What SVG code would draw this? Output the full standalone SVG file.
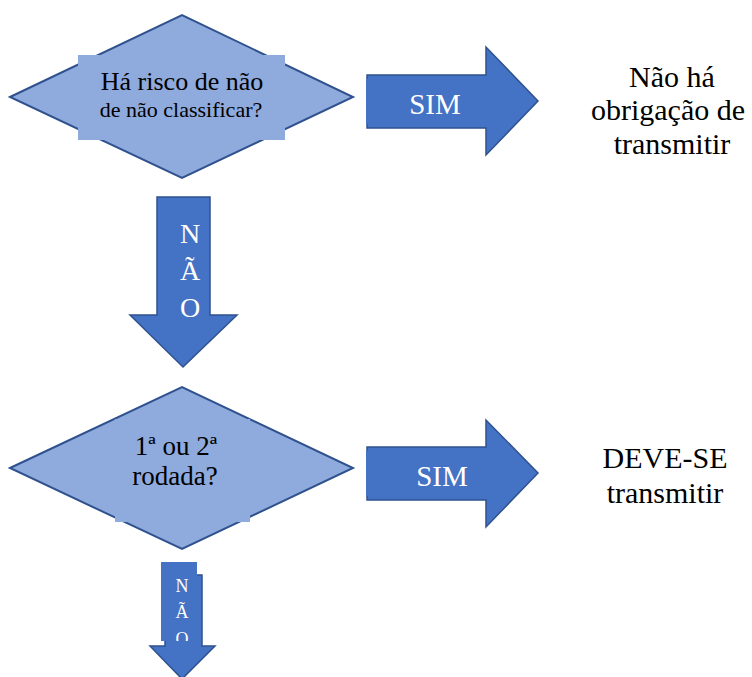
<svg xmlns="http://www.w3.org/2000/svg" width="752" height="677" viewBox="0 0 752 677">
<style>
.dia{fill:#8FAADC;stroke:#2F528F;stroke-width:2}
.box{fill:#8FAADC}
.arr{fill:#4472C4;stroke:#2F528F;stroke-width:1.5}
.abox{fill:#4472C4}
.t{font-family:'Liberation Serif','Times New Roman',serif;text-anchor:middle}
.dk{fill:#000}
.wt{fill:#fff}
</style>
<defs>
<clipPath id="clipN2"><rect x="155" y="560" width="50" height="81"/></clipPath>
</defs>
<rect width="752" height="677" fill="#fff"/>
<g id="decision1">
<polygon class="dia" points="10,97 182,15 353,97 182,178"/>
<rect class="box" x="78" y="55" width="207" height="85"/>
<text class="t dk" x="182" y="90" font-size="26">Há risco de não</text>
<text class="t dk" x="181" y="117" font-size="22">de não classificar?</text>
</g>
<g id="result1">
<text class="t dk" x="672" y="87" font-size="30">Não há</text>
<text class="t dk" x="668" y="120" font-size="30">obrigação de</text>
<text class="t dk" x="672" y="154" font-size="30">transmitir</text>
</g>
<g id="decision2">
<polygon class="dia" points="10,468 182,387 353,468 182,549"/>
<rect class="box" x="115" y="419" width="135" height="103"/>
<text class="t dk" x="176" y="455" font-size="27">1ª ou 2ª</text>
<text class="t dk" x="175" y="485" font-size="27">rodada?</text>
</g>
<g id="result2">
<text class="t dk" x="665" y="468" font-size="30">DEVE-SE</text>
<text class="t dk" x="665" y="503" font-size="30">transmitir</text>
</g>
<g id="connectors">
<g id="sim1">
<path class="arr" d="M367,75 H486 V47 L538,101 L486,155 V128 H367 Z"/>
<rect class="abox" x="366" y="79" width="113" height="45"/>
<text class="t wt" x="435" y="114" font-size="29">SIM</text>
</g>
<g id="nao1">
<path class="arr" d="M157,197 H210 V315 H237 L183,367 L130,315 H157 Z"/>
<text class="t wt" x="190" y="243" font-size="28">N</text>
<text class="t wt" x="190" y="280" font-size="28">Ã</text>
<text class="t wt" x="190" y="317" font-size="28">O</text>
</g>
<g id="sim2">
<path class="arr" d="M367,447 H486 V420 L538,473 L486,527 V500 H367 Z"/>
<rect class="abox" x="366" y="451" width="113" height="45"/>
<text class="t wt" x="442" y="486" font-size="29">SIM</text>
</g>
<g id="nao2">
<path class="arr" d="M165,575 H202 V646 H215 L182,679 L150,646 H165 Z"/>
<rect class="abox" x="161" y="562" width="36" height="79"/>
<g clip-path="url(#clipN2)">
<text class="t wt" x="182" y="592" font-size="18">N</text>
<text class="t wt" x="182" y="618" font-size="18">Ã</text>
<text class="t wt" x="182" y="645" font-size="18">O</text>
</g>
</g>
</g>
</svg>
